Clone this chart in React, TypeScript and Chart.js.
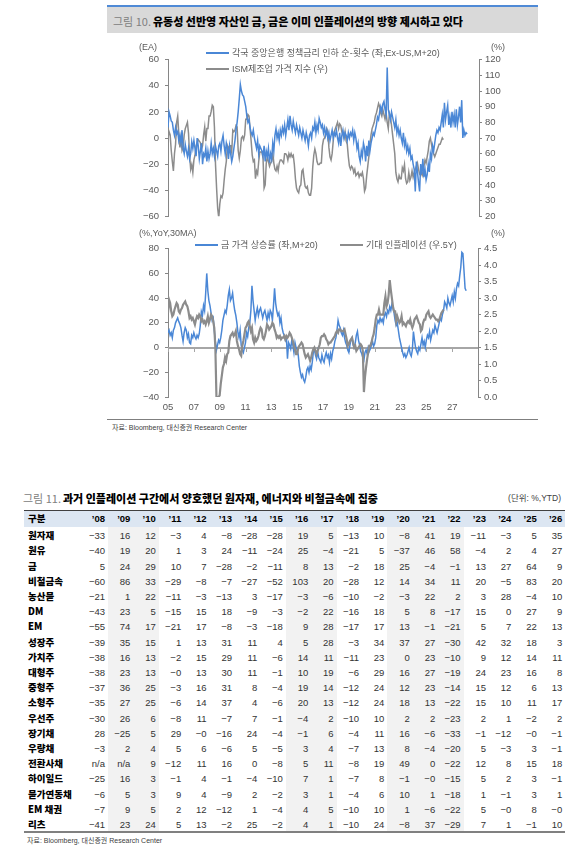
import React, { useEffect, useRef } from 'react';
import { Chart, registerables } from 'chart.js';

Chart.register(...registerables);

const BLUE = '#4a87d6';
const GREY = '#8c8c8c';
const AXIS = '#868686';
const TXT = '#595959';
const NUM_FONT = "'Liberation Sans', Arial, 'Noto Sans CJK KR', sans-serif";
const KR_FONT = "'Liberation Sans', 'Noto Sans CJK KR', sans-serif";

// ---- time axis ----
const START_YEAR = 2005; // monthly series start (Jan 2005)
const X_MIN = 2005;
const X_MAX = 2029;
const X_TICKS = [2005, 2007, 2009, 2011, 2013, 2015, 2017, 2019, 2021, 2023, 2025, 2027];

// ---- top chart: net count of policy-rate cuts (left, Ex-US, M+20) ----
const RATE_CUTS = [
  8, 20, 17, 13, 12, 6, 2, 8, 3, 5, -2, 2,
  -4, 6, -8, -12, -5, -10, -14, -8, -16, -12, -3, -8,
  -2, -8, -14, 0, -6, -16, -10, -4, -20, -12, -14, -8,
  -18, -10, -16, -12, -4, -12, -8, -14, -6, -10, -14, -6,
  -4, -10, -2, 2, -6, -12, -4, -8, -16, -6, -12, -18,
  -14, -8, -2, 6, 12, 20, 30, 41, 36, 33, 32, 28,
  24, 17, 12, 14, 8, 4, 2, 6, 0, -4, -8, -2,
  -12, -6, -8, -10, -14, -6, -18, -10, -14, -8, -19, -12,
  -16, -4, -10, 2, 7, 0, 4, -2, 6, 2, 8, 4,
  10, 2, 8, 14, 6, 17, 10, 6, 13, 8, 4, 10,
  6, 2, 8, 4, 0, 6, 2, -2, 4, 0, -6, 2,
  4, 0, 8, 6, 12, 4, 10, 6, 15, 12, 8, 10,
  4, 8, 2, 6, 0, 4, -2, 2, 6, 0, 4, 2,
  6, 0, -4, 4, -6, 2, 6, 0, 4, 2, -2, 4,
  0, 4, 2, 6, -2, 4, 0, -8, -4, -14, -18, -10,
  -14, -4, -8, -18, -6, -14, -2, -10, -4, 0, 4, 2,
  6, 10, 16, 14, 20, 24, 20, 26, 28, 22, 18, 54,
  22, 18, 14, 20, 16, 12, 8, 14, 4, 8, 2, 6,
  0, -4, 4, -6, -2, -10, -6, -12, -8, -16, -14, -20,
  -24, -41, -18, -26, -34, -41, -20, -28, -16, -30, -24, -32,
  -28, -20, -26, -12, -16, -6, -10, -4, 2, 6, 4, 8,
  6, 12, 18, 8, 27, 14, 20, 25, 10, 16, 8, 20,
  12, 18, 8, 22, 10, 16, 24, 12, 29, 0, 6, 2,
  4, 3,
];

// ---- top chart: ISM manufacturing prices index (right) ----
const ISM_PRICES = [
  70, 74, 72, 62, 55, 49, 60, 66, 80, 84, 73, 64,
  70, 62, 64, 72, 76, 78, 80, 73, 59, 50, 53, 48,
  56, 59, 65, 67, 69, 68, 67, 63, 65, 72, 77, 68,
  76, 76, 84, 84, 87, 91, 90, 77, 53, 38, 25, 19,
  28, 33, 32, 35, 43, 50, 55, 65, 63, 65, 65, 61,
  75, 74, 75, 78, 77, 62, 57, 62, 70, 71, 69, 72,
  82, 82, 85, 84, 76, 68, 59, 55, 56, 44, 49, 47,
  55, 61, 61, 61, 57, 38, 40, 54, 58, 55, 52, 54,
  55, 61, 54, 50, 49, 52, 49, 54, 56, 56, 55, 54,
  60, 60, 59, 56, 60, 58, 60, 58, 59, 53, 44, 38,
  36, 35, 39, 40, 49, 50, 44, 39, 38, 39, 35, 33.5,
  33.5, 38, 51, 59, 63, 60, 55, 53, 53, 54, 54, 65,
  69, 70, 73, 76, 74, 64, 58, 56, 60, 68, 74, 76,
  78, 80, 76, 79, 78, 74, 72, 70, 74, 68, 66, 58,
  52, 50, 52, 51, 48, 50, 46, 47, 48, 45, 47, 46,
  48, 44, 36, 38, 46, 52, 58, 66, 72, 76, 78, 80,
  84, 86, 89, 92, 90, 86, 84, 88, 85, 82, 86, 80,
  76, 86, 84, 78, 72, 66, 60, 48, 44, 42, 46, 44,
  44, 51, 49, 53, 44, 41, 42, 48, 43, 45, 49, 45,
  48, 50, 52, 54, 50, 47, 46, 48, 46, 52, 56, 54,
  58, 62, 68, 70, 66, 62, 60, 58, 60, 62, 64, 66,
  66, 68, 70, 69,
];

// ---- bottom chart: gold price YoY, 30MA (left, M+20) ----
const GOLD_YOY = [
  12, 14, 10, 12, 8, 14, 16, 20, 22, 24, 21, 19,
  16, 10, 5, 12, 16, 14, 8, 11, 4, 3, 10, 8,
  12, 9, 7, 10, 8, 11, 18, 29, 26, 34, 30, 44,
  60, 46, 38, 34, 28, 22, 24, 14, 5, -2, 2, 6,
  4, 8, 14, 22, 26, 30, 28, 34, 42, 47, 38, 40,
  44, 36, 30, 26, 20, 12, 8, 14, 2, -2, -4, 0,
  4, 12, 9, 16, 20, 30, 50, 38, 30, 22, 28, 32,
  26, 30, 32, 28, 24, 28, 30, 26, 22, 28, 24, 30,
  28, 22, 34, 48, 36, 30, 26, 28, 20, 24, 16, 12,
  10, 6, 8, -9, 4, 2, -1, 6, 2, -4, 4, 0,
  -2, -6, -15, -20, -24, -22, -26, -28, -24, -18, -16, -20,
  -15, -18, -12, -4, -1, -6, -9, -3, -8, -10, -12, -6,
  -10, -12, -7, -4, -8, -6, -12, -5, -9, -3, 0, 5,
  8, 14, 22, 18, 16, 12, 10, 14, 8, 4, 2, -2,
  -4, 2, 6, 8, 2, 0, 4, 10, 13, 6, 2, -3,
  -5, -8, -10, -4, -2, -5, 0, -3, -1, 2, 5, 1,
  3, 8, 18, 22, 20, 24, 21, 23, 20, 26, 28, 25,
  30, 28, 33, 30, 35, 32, 28, 22, 18, 20, 14, 8,
  4, 0, -4, -7, -5, -8, -6, -3, 0, -5, -7, -2,
  13, 6, 0, -3, -5, 0, -2, 3, 8, 2, 5, 0,
  6, 10, 8, 13, 6, 10, 14, 12, 18, 15, 12, 16,
  20, 24, 22, 27, 30, 37, 35, 32, 40, 36, 34, 38,
  42, 37, 45, 40, 48, 52, 50, 58, 65, 77, 76, 62,
  48, 46,
];

// ---- bottom chart: 5Y expected inflation (right) ----
const BREAKEVEN_5Y = [
  2.55, 2.95, 2.85, 2.6, 2.45, 2.5, 2.65, 2.75, 2.85, 2.8, 2.6, 2.55,
  2.65, 2.7, 2.8, 2.85, 2.9, 2.8, 2.75, 2.6, 2.4, 2.45, 2.35, 2.4,
  2.3, 2.2, 2.35, 2.45, 2.4, 2.5, 2.45, 2.3, 2.35, 2.25, 2.3, 2.2,
  2.3, 2.45, 2.25, 2.35, 2.5, 2.45, 2.3, 2.1, 1.5, 0.0, 0.0, 0.0,
  0.05, 0.4, 0.65, 0.9, 1.0, 1.2, 1.1, 1.3, 1.35, 1.7, 1.85, 1.9,
  1.95, 1.85, 1.9, 2.0, 1.7, 1.55, 1.45, 1.3, 1.25, 1.55, 1.7, 1.9,
  2.1, 2.15, 2.25, 2.3, 2.15, 2.0, 2.1, 1.75, 1.65, 1.8, 1.7, 1.75,
  1.85, 2.0, 2.1, 2.05, 1.8, 1.75, 1.85, 2.0, 2.2, 2.15, 2.05, 2.1,
  2.15, 2.25, 2.2, 2.05, 1.95, 1.8, 1.85, 1.8, 1.85, 1.75, 1.8, 1.8,
  1.85, 1.75, 1.85, 1.8, 1.85, 1.95, 1.9, 1.8, 1.7, 1.55, 1.45, 1.3,
  1.3, 1.5, 1.55, 1.6, 1.65, 1.6, 1.45, 1.3, 1.2, 1.25, 1.3, 1.2,
  1.1, 1.2, 1.35, 1.45, 1.5, 1.4, 1.3, 1.4, 1.5, 1.6, 1.8, 1.85,
  1.85, 1.9, 1.85, 1.75, 1.7, 1.6, 1.65, 1.65, 1.7, 1.75, 1.8, 1.85,
  1.95, 2.0, 1.95, 2.05, 2.05, 2.0, 2.0, 2.0, 2.05, 1.9, 1.75, 1.55,
  1.6, 1.7, 1.75, 1.8, 1.65, 1.5, 1.55, 1.4, 1.45, 1.5, 1.55, 1.6,
  1.55, 1.4, 0.15, 0.6, 0.9, 1.15, 1.35, 1.55, 1.55, 1.65, 1.8, 1.9,
  2.1, 2.35, 2.5, 2.5, 2.65, 2.5, 2.5, 2.5, 2.5, 2.85, 3.05, 2.75,
  2.85, 3.1, 3.55, 3.25, 3.0, 2.75, 2.6, 2.6, 2.3, 2.45, 2.35, 2.25,
  2.3, 2.45, 2.2, 2.25, 2.2, 2.15, 2.25, 2.3, 2.25, 2.35, 2.2, 2.1,
  2.2, 2.35, 2.4, 2.45, 2.35, 2.25, 2.2, 2.0, 2.05, 2.25, 2.35, 2.35,
  2.5, 2.55, 2.6, 2.45, 2.4, 2.45, 2.5, 2.45, 2.4, 2.35, 2.35, 2.3,
  2.35, 2.45, 2.55, 2.6, 2.65,
];

// ---- table ----
const TABLE_COLS = ['구분', '’08', '’09', '’10', '’11', '’12', '’13', '’14', '’15', '’16', '’17', '’18', '’19', '’20', '’21', '’22', '’23', '’24', '’25', '’26'];
const TABLE_ROWS = ['원자재', '원유', '금', '비철금속', '농산물', 'DM', 'EM', '성장주', '가치주', '대형주', '중형주', '소형주', '우선주', '장기채', '우량채', '전환사채', '하이일드', '물가연동채', 'EM 채권', '리츠'];
const TABLE_VALUES = [
  [-33, 16, 12, -3, 4, -8, -28, -28, 19, 5, -13, 10, -8, 41, 19, -11, -3, 5, 35],
  [-40, 19, 20, 1, 3, 24, -11, -24, 25, -4, -21, 5, -37, 46, 58, -4, 2, 4, 27],
  [5, 24, 29, 10, 7, -28, -2, -11, 8, 13, -2, 18, 25, -4, -1, 13, 27, 64, 9],
  [-60, 86, 33, -29, -8, -7, -27, -52, 103, 20, -28, 12, 14, 34, 11, 20, -5, 83, 20],
  [-21, 1, 22, -11, -3, -13, 3, -17, -3, -6, -10, -2, -3, 22, 2, 3, 28, -4, 10],
  [-43, 23, 5, -15, 15, 18, -9, -3, -2, 22, -16, 18, 5, 8, -17, 15, 0, 27, 9],
  [-55, 74, 17, -21, 17, -8, -3, -18, 9, 28, -17, 17, 13, -1, -21, 5, 7, 22, 13],
  [-39, 35, 15, 1, 13, 31, 11, 4, 5, 28, -3, 34, 37, 27, -30, 42, 32, 18, 3],
  [-38, 16, 13, -2, 15, 29, 11, -6, 14, 11, -11, 23, 0, 23, -10, 9, 12, 14, 11],
  [-38, 23, 13, -0, 13, 30, 11, -1, 10, 19, -6, 29, 16, 27, -19, 24, 23, 16, 8],
  [-37, 36, 25, -3, 16, 31, 8, -4, 19, 14, -12, 24, 12, 23, -14, 15, 12, 6, 13],
  [-35, 27, 25, -6, 14, 37, 4, -6, 20, 13, -12, 24, 18, 13, -22, 15, 10, 11, 17],
  [-30, 26, 6, -8, 11, -7, 7, -1, -4, 2, -10, 10, 2, 2, -23, 2, 1, -2, 2],
  [28, -25, 5, 29, -0, -16, 24, -4, -1, 6, -4, 11, 16, -6, -33, -1, -12, -0, -1],
  [-3, 2, 4, 5, 6, -6, 5, -5, 3, 4, -7, 13, 8, -4, -20, 5, -3, 3, -1],
  [null, null, 9, -12, 11, 16, 0, -8, 5, 11, -8, 19, 49, 0, -22, 12, 8, 15, 18],
  [-25, 16, 3, -1, 4, -1, -4, -10, 7, 1, -7, 8, -1, -0, -15, 5, 2, 3, -1],
  [-6, 5, 3, 9, 4, -9, 2, -2, 3, 1, -4, 6, 10, 1, -18, 1, -1, 3, 1],
  [-7, 9, 5, 2, 12, -12, 1, -4, 4, 5, -10, 10, 1, -6, -22, 5, -0, 8, -0],
  [-41, 23, 24, 5, 13, -2, 25, -2, 4, 1, -10, 24, -8, 37, -29, 7, 1, -1, 10],
];
const SHADED_COLS = [1, 2, 8, 9, 12, 13, 14];

// ---- helpers ----
const monthly = (values: number[]) => values.map((v, i) => ({ x: START_YEAR + i / 12, y: v }));
const signed = (v: number) => (v < 0 ? '\u2212' + Math.abs(v) : String(v));
const fmtCell = (v: number | null) =>
  v === null ? 'n/a' : v < 0 || Object.is(v, -0) ? '\u2212' + Math.abs(v) : String(v);

function yAxis(position: string, min: number, max: number, step: number, width: number, fmt: (v: number) => string, pad: number) {
  return {
    position,
    min,
    max,
    ticks: {
      stepSize: step,
      color: TXT,
      padding: pad,
      font: { family: NUM_FONT, size: 9.5 },
      callback: (v: any) => fmt(Number(v)),
    },
    grid: { drawOnChartArea: false, drawTicks: true, tickLength: 3, color: AXIS },
    border: { display: true, color: AXIS, width: 1 },
    afterFit: (s: any) => {
      s.width = width;
    },
  };
}

const zeroLinePlugin = {
  id: 'zeroLine',
  beforeDatasetsDraw(chart: any) {
    const { ctx, chartArea, scales } = chart;
    const y = Math.round(scales.yL.getPixelForValue(0));
    ctx.save();
    ctx.strokeStyle = '#a6a6a6';
    ctx.lineWidth = 2;
    ctx.beginPath();
    ctx.moveTo(chartArea.left, y);
    ctx.lineTo(chartArea.right, y);
    ctx.stroke();
    ctx.lineWidth = 1;
    ctx.beginPath();
    for (const v of X_TICKS) {
      const x = Math.round(scales.x.getPixelForValue(v)) + 0.5;
      ctx.moveTo(x, y);
      ctx.lineTo(x, y + 4);
    }
    ctx.stroke();
    ctx.restore();
  },
};

function topConfig(): any {
  return {
    type: 'line',
    data: {
      datasets: [
        { label: 'cuts', data: monthly(RATE_CUTS), yAxisID: 'yL', borderColor: BLUE, borderWidth: 1.5, pointRadius: 0, tension: 0, order: 0 },
        { label: 'ism', data: monthly(ISM_PRICES), yAxisID: 'yR', borderColor: GREY, borderWidth: 1.5, pointRadius: 0, tension: 0, order: 1 },
      ],
    },
    options: {
      animation: false,
      responsive: false,
      maintainAspectRatio: false,
      layout: { padding: { top: 10, bottom: 6, left: 0, right: 0 } },
      plugins: { legend: { display: false }, tooltip: { enabled: false } },
      scales: {
        x: { type: 'linear', min: X_MIN, max: X_MAX, display: false },
        yL: yAxis('left', -60, 60, 20, 48, signed, 6),
        yR: yAxis('right', 20, 120, 10, 31, (v) => String(v), 3),
      },
    },
  };
}

function bottomConfig(): any {
  return {
    type: 'line',
    data: {
      datasets: [
        { label: 'gold', data: monthly(GOLD_YOY), yAxisID: 'yL', borderColor: BLUE, borderWidth: 1.5, pointRadius: 0, tension: 0, order: 1 },
        { label: 'bei', data: monthly(BREAKEVEN_5Y), yAxisID: 'yR', borderColor: GREY, borderWidth: 2.2, pointRadius: 0, tension: 0, order: 0 },
      ],
    },
    options: {
      animation: false,
      responsive: false,
      maintainAspectRatio: false,
      layout: { padding: { top: 10, bottom: 0, left: 0, right: 0 } },
      plugins: { legend: { display: false }, tooltip: { enabled: false } },
      scales: {
        x: {
          type: 'linear',
          min: X_MIN,
          max: X_MAX,
          afterBuildTicks: (s: any) => {
            s.ticks = X_TICKS.map((v) => ({ value: v }));
          },
          afterFit: (s: any) => {
            s.height = 20;
          },
          ticks: {
            autoSkip: false,
            maxRotation: 0,
            padding: 5,
            color: TXT,
            font: { family: NUM_FONT, size: 9.5 },
            callback: (v: any) => String(v).slice(2),
          },
          grid: { display: false, drawTicks: false },
          border: { display: false },
        },
        yL: yAxis('left', -40, 80, 20, 48, signed, 6),
        yR: yAxis('right', 0, 4.5, 0.5, 32, (v) => v.toFixed(1), 3),
      },
    },
    plugins: [zeroLinePlugin],
  };
}

function ChartCanvas({ left, top, width, height, make }: any) {
  const ref = useRef<HTMLCanvasElement>(null);
  useEffect(() => {
    const chart = new Chart(ref.current as HTMLCanvasElement, make());
    return () => chart.destroy();
  }, []);
  return (
    <canvas
      ref={ref}
      width={width}
      height={height}
      style={{ position: 'absolute', left, top, width, height }}
    />
  );
}

function T({ x, cy, size, color = TXT, weight = 400, family = KR_FONT, align = 'left', children }: any) {
  const lh = Math.round(size * 1.4);
  const style: any = {
    position: 'absolute',
    top: cy - lh / 2,
    fontSize: size,
    lineHeight: lh + 'px',
    color,
    fontWeight: weight,
    fontFamily: family,
    whiteSpace: 'nowrap',
  };
  if (align === 'right') {
    style.right = 588 - x;
    style.textAlign = 'right';
  } else {
    style.left = x;
  }
  return <div style={style}>{children}</div>;
}

function Swatch({ x, y, color, w = 23, h = 2 }: any) {
  return <div style={{ position: 'absolute', left: x, top: y - h / 2, width: w, height: h, background: color }} />;
}

const COL_RIGHT0 = 105;
const COL_STEP = 25.4;
const ROW_Y0 = 535.6;
const ROW_STEP = 15.2;

function Table() {
  const colRight = (c: number) => COL_RIGHT0 + c * COL_STEP;
  const els: any[] = [];
  SHADED_COLS.forEach((c) => {
    els.push(
      <div key={'sh' + c} style={{ position: 'absolute', left: colRight(c - 1) + 3, top: 527, width: COL_STEP, height: 304.5, background: '#f2f2f2' }} />
    );
  });
  els.push(<div key="hbg" style={{ position: 'absolute', left: 24, top: 510, width: 541, height: 17, background: '#dce6f2', borderTop: '1.5px solid #404040', boxSizing: 'border-box' }} />);
  els.push(
    <T key="h0" x={28} cy={518.6} size={9.5} color="#000" weight={900} family="'Noto Sans CJK KR', sans-serif">
      {TABLE_COLS[0]}
    </T>
  );
  TABLE_COLS.slice(1).forEach((lab, c) => {
    els.push(
      <T key={'h' + (c + 1)} x={colRight(c)} cy={518.6} size={9.5} color="#000" weight={700} family={NUM_FONT} align="right">
        {lab}
      </T>
    );
  });
  TABLE_ROWS.forEach((name, r) => {
    const cy = ROW_Y0 + r * ROW_STEP;
    els.push(
      <T key={'r' + r} x={28} cy={cy} size={9.5} color="#000" weight={900} family="'Noto Sans CJK KR', sans-serif">
        {name}
      </T>
    );
    TABLE_VALUES[r].forEach((v, c) => {
      els.push(
        <T key={'v' + r + '_' + c} x={colRight(c)} cy={cy} size={9.5} color="#333" family={NUM_FONT} align="right">
          {fmtCell(v)}
        </T>
      );
    });
  });
  els.push(<div key="bl" style={{ position: 'absolute', left: 24, top: 831, width: 541, height: 1.5, background: '#808080' }} />);
  return <>{els}</>;
}

export default function App() {
  return (
    <div style={{ position: 'absolute', left: 0, top: 0, width: 588, height: 853, background: '#fff', overflow: 'hidden' }}>
      {/* Figure 10 title bar */}
      <div style={{ position: 'absolute', left: 107, top: 5, width: 431, height: 28, background: '#d9d9d9', borderTop: '2px solid #4f8ad6', boxSizing: 'border-box' }} />
      <T x={113} cy={21.5} size={11} color="#000" family="'Noto Sans CJK KR', sans-serif">
        <span style={{ color: '#808080' }}>그림 10.</span>
        <span style={{ fontWeight: 900, marginLeft: 2 }}>유동성 선반영 자산인 금, 금은 이미 인플레이션의 방향 제시하고 있다</span>
      </T>

      {/* top chart */}
      <ChartCanvas left={120} top={48} width={390} height={180} make={topConfig} />
      <T x={139} cy={47.5} size={9}>(EA)</T>
      <T x={491} cy={47.5} size={9}>(%)</T>
      <Swatch x={206} y={53} color={BLUE} />
      <T x={232} cy={53} size={9}>각국 중앙은행 정책금리 인하 순-횟수 (좌,Ex-US,M+20)</T>
      <Swatch x={206} y={69} color={GREY} />
      <T x={232} cy={69} size={9}>ISM제조업 가격 지수 (우)</T>

      {/* bottom chart */}
      <ChartCanvas left={120} top={237} width={390} height={180} make={bottomConfig} />
      <T x={139} cy={233} size={9}>(%,YoY,30MA)</T>
      <T x={491} cy={233} size={9}>(%)</T>
      <Swatch x={195} y={245} color={BLUE} />
      <T x={221} cy={245} size={9}>금 가격 상승률 (좌,M+20)</T>
      <Swatch x={340} y={245} color={GREY} />
      <T x={366} cy={245} size={9}>기대 인플레이션 (우.5Y)</T>

      {/* source line */}
      <div style={{ position: 'absolute', left: 107, top: 418.5, width: 431, height: 1, background: '#7f7f7f' }} />
      <T x={112} cy={428} size={7} color="#404040">자료: Bloomberg, 대신증권 Research Center</T>

      {/* Figure 11 */}
      <T x={23} cy={498.3} size={11} color="#000" family="'Noto Sans CJK KR', sans-serif">
        <span style={{ color: '#808080' }}>그림 11.</span>
        <span style={{ fontWeight: 900, marginLeft: 2 }}>과거 인플레이션 구간에서 양호했던 원자재, 에너지와 비철금속에 집중</span>
      </T>
      <T x={561} cy={498.3} size={8.5} color="#404040" align="right">(단위: %,YTD)</T>
      <Table />
      <T x={27} cy={840.7} size={7} color="#404040">자료: Bloomberg, 대신증권 Research Center</T>
    </div>
  );
}
